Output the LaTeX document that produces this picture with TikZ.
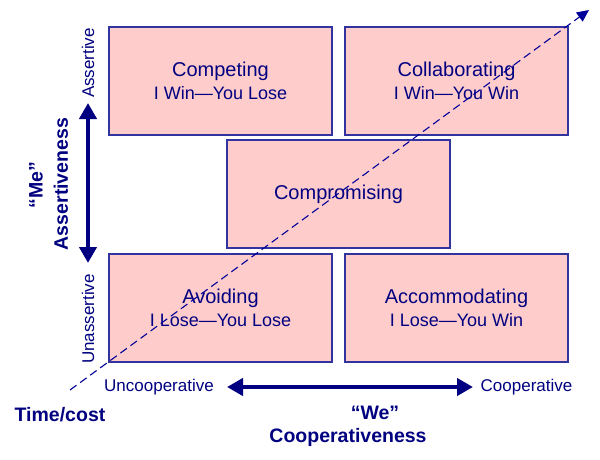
\documentclass[tikz,border=0pt]{standalone}
\usepackage{fontspec}
\setmainfont{Liberation Sans}
\usetikzlibrary{arrows.meta}
\definecolor{navy}{HTML}{000080}
\definecolor{boxline}{HTML}{3333A0}
\definecolor{boxfill}{HTML}{FFCCCC}
\newcommand{\subline}[1]{{\fontsize{18}{23}\selectfont #1}}
\tikzset{
  stylebox/.style={draw=boxline, fill=boxfill, line width=1.2pt, minimum width=223pt, minimum height=108pt, inner sep=0pt, text=navy, align=center, font=\fontsize{20}{23.5}\selectfont},
  axislabel/.style={text=navy, font=\fontsize{17}{20}\selectfont, inner sep=0pt},
  boldlabel/.style={text=navy, font=\fontsize{19.5}{23}\selectfont\bfseries, inner sep=0pt, align=center},
  bigarrow/.style={navy, line width=4.5pt, {Triangle[length=16pt,width=17pt]}-{Triangle[length=16pt,width=17pt]}},
  diag/.style={navy!80!blue, line width=1.1pt, dash pattern=on 8pt off 4.5pt, -{Triangle[length=12pt,width=11pt]}}
}
\begin{document}
\begin{tikzpicture}[x=1pt,y=-1pt]
\useasboundingbox (0,0) rectangle (600,460);
\fill[white] (0,0) rectangle (600,460);
\node[stylebox] (competing) at (220.5,81) {Competing\\\subline{I Win—You Lose}};
\node[stylebox] (collab) at (456.5,81) {Collaborating\\\subline{I Win—You Win}};
\node[stylebox] (compro) at (338.5,194) {Compromising};
\node[stylebox] (avoid) at (220.5,308) {Avoiding\\\subline{I Lose—You Lose}};
\node[stylebox] (accom) at (456.5,308) {Accommodating\\\subline{I Lose—You Win}};
\coordinate (tcstart) at (70,390);
\coordinate (tcend) at (589,10);
\draw[diag] (tcstart) -- (tcend);
% vertical axis
\node[axislabel, rotate=90] (assertive) at (88,63) {Assertive};
\node[axislabel, rotate=90] (unassertive) at (88,319) {Unassertive};
\coordinate (vtop) at (88,103);
\coordinate (vbot) at (88,263);
\draw[bigarrow] (vtop) -- (vbot);
\node[boldlabel, rotate=90] (me) at (36,185) {“Me”};
\node[boldlabel, rotate=90] (assertiveness) at (61,184) {Assertiveness};
% horizontal axis
\node[axislabel] (uncoop) at (159,387) {Uncooperative};
\node[axislabel] (coop) at (526.5,387) {Cooperative};
\coordinate (hleft) at (227,387);
\coordinate (hright) at (473,387);
\draw[bigarrow] (hleft) -- (hright);
\node[boldlabel] (we) at (375,413) {“We”};
\node[boldlabel] (cooperativeness) at (348,437) {Cooperativeness};
\node[boldlabel] (timecost) at (60,415) {Time/cost};
\end{tikzpicture}
\end{document}
